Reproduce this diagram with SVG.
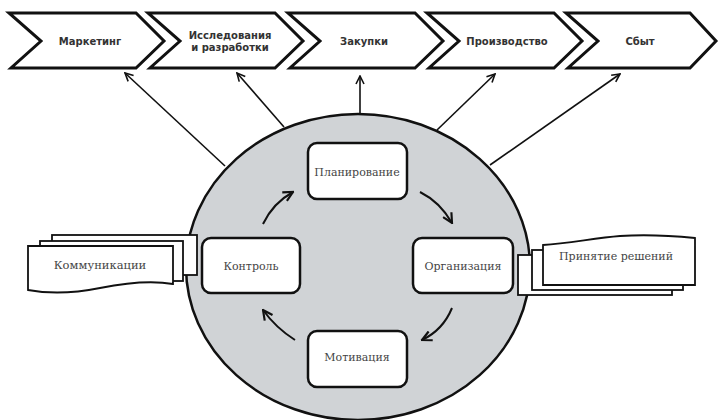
<svg xmlns="http://www.w3.org/2000/svg" width="720" height="420" viewBox="0 0 720 420">
<defs>
<style>
.chev{fill:#fff;stroke:#111;stroke-width:3;stroke-linejoin:miter}
.chevt{font-family:"DejaVu Sans",sans-serif;font-weight:bold;font-size:10px;fill:#333;text-anchor:middle}
.box{fill:#fff;stroke:#111;stroke-width:2.5}
.boxt{font-family:"DejaVu Serif",serif;font-size:11px;fill:#444;text-anchor:middle}
.sheet{fill:#fff;stroke:#111;stroke-width:1.8}
.conn{fill:none;stroke:#111;stroke-width:1.6}
.cyc{fill:none;stroke:#111;stroke-width:2}
</style>
<marker id="ah" viewBox="0 0 10 10" refX="9" refY="5" markerWidth="10" markerHeight="10" markerUnits="userSpaceOnUse" orient="auto">
<path d="M1,1 L9,5 L1,9" fill="none" stroke="#111" stroke-width="1.6"/>
</marker>
<marker id="ah2" viewBox="0 0 10 10" refX="9" refY="5" markerWidth="12" markerHeight="12" markerUnits="userSpaceOnUse" orient="auto">
<path d="M1,1 L9,5 L1,9" fill="none" stroke="#111" stroke-width="1.8"/>
</marker>
</defs>
<rect width="720" height="420" fill="#fff"/>

<g id="chevrons">
<g id="n-marketing">
<polygon class="chev" points="9,13 136,13 164,41 136,68 11,68 41,41"/>
<text class="chevt" x="90" y="45">Маркетинг</text>
</g>
<g id="n-rnd">
<polygon class="chev" points="148,13 275,13 303,41 275,68 150,68 180,41"/>
<text class="chevt" x="230" y="39">Исследования</text>
<text class="chevt" x="230" y="51">и разработки</text>
</g>
<g id="n-purchase">
<polygon class="chev" points="288,13 415,13 443,41 415,68 290,68 320,41"/>
<text class="chevt" x="364" y="45">Закупки</text>
</g>
<g id="n-production">
<polygon class="chev" points="427,13 554,13 582,41 554,68 429,68 459,41"/>
<text class="chevt" x="507" y="45">Производство</text>
</g>
<g id="n-sales">
<polygon class="chev" points="566,13 690,13 716,41 690,68 568,68 598,41"/>
<text class="chevt" x="640" y="45">Сбыт</text>
</g>
</g>

<g id="connectors">
<line class="conn" x1="225" y1="166" x2="125" y2="73" marker-end="url(#ah)"/>
<line class="conn" x1="284" y1="127" x2="237" y2="73" marker-end="url(#ah)"/>
<line class="conn" x1="360" y1="114" x2="360" y2="76" marker-end="url(#ah)"/>
<line class="conn" x1="437" y1="130" x2="495" y2="74" marker-end="url(#ah)"/>
<line class="conn" x1="490" y1="165" x2="620" y2="74" marker-end="url(#ah)"/>
</g>

<g id="circle">
<ellipse cx="358" cy="267" rx="172" ry="153" fill="#d0d3d6" stroke="#111" stroke-width="2.5"/>
</g>

<g id="cycle-arrows">
<path class="cyc" d="M263,224 Q273,203 293,192" marker-end="url(#ah2)"/>
<path class="cyc" d="M420,192 Q440,202 452,223" marker-end="url(#ah2)"/>
<path class="cyc" d="M452,308 Q443,330 422,340" marker-end="url(#ah2)"/>
<path class="cyc" d="M295,340 Q276,328 263,310" marker-end="url(#ah2)"/>
</g>

<g id="n-planning">
<rect class="box" x="308" y="143" width="99" height="56" rx="9"/>
<text class="boxt" x="357" y="176">Планирование</text>
</g>
<g id="n-control">
<rect class="box" x="202" y="238" width="98" height="55" rx="9"/>
<text class="boxt" x="251" y="270">Контроль</text>
</g>
<g id="n-organization">
<rect class="box" x="413" y="238" width="100" height="55" rx="9"/>
<text class="boxt" x="463" y="270">Организация</text>
</g>
<g id="n-motivation">
<rect class="box" x="308" y="331" width="99" height="56" rx="9"/>
<text class="boxt" x="357" y="361">Мотивация</text>
</g>

<g id="n-communications">
<rect class="sheet" x="52" y="235" width="145" height="40"/>
<rect class="sheet" x="40" y="241" width="143" height="40"/>
<path class="sheet" d="M28,246 H173 V284 C150,280 125,283 100,288 C75,293 50,294 28,290 Z"/>
<text class="boxt" x="100" y="269" style="font-size:11.5px">Коммуникации</text>
</g>

<g id="n-decisions">
<rect class="sheet" x="518" y="255" width="154" height="40"/>
<rect class="sheet" x="532" y="250" width="151" height="40"/>
<path class="sheet" d="M543,245 C570,243 595,238 620,236 C650,234 675,236 695,238 V285 H543 Z"/>
<text class="boxt" x="616" y="260">Принятие решений</text>
</g>
</svg>
